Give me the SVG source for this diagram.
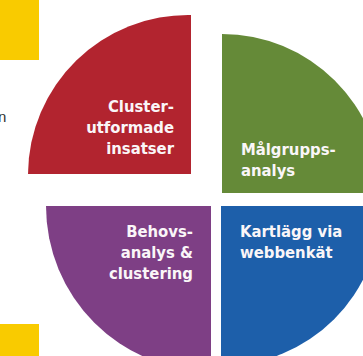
<svg xmlns="http://www.w3.org/2000/svg" width="363" height="356" viewBox="0 0 363 356">
<style>
.lbl{font-family:"DejaVu Sans Condensed","DejaVu Sans","Liberation Sans Narrow",sans-serif;font-stretch:condensed;font-weight:bold;font-size:16.5px;fill:#FAF6F8}
.end{text-anchor:end}
</style>
<rect width="363" height="356" fill="#ffffff"/>
<rect x="0" y="0" width="39" height="60" fill="#F9CB00"/>
<rect x="0" y="324" width="39" height="32" fill="#F9CB00"/>
<text x="-2" y="122" font-family="Liberation Sans, sans-serif" font-size="15" fill="#333333">n</text>
<g id="red">
<path d="M191,174 L191,15 A160,160 0 0 0 28,174 Z" fill="#B2242F"/>
<text class="lbl end"><tspan x="174" y="112">Cluster-</tspan><tspan x="174" y="133">utformade</tspan><tspan x="174" y="154">insatser</tspan></text>
</g>
<g id="green">
<path d="M222,193 L222,34 A160,160 0 0 1 382,193 Z" fill="#658A38"/>
<text class="lbl"><tspan x="241" y="155">Målgrupps-</tspan><tspan x="241" y="176">analys</tspan></text>
</g>
<g id="purple">
<path d="M211,206 L211,371 A165,165 0 0 1 46,206 Z" fill="#7E3F85"/>
<text class="lbl end"><tspan x="193" y="237">Behovs-</tspan><tspan x="193" y="258">analys &amp;</tspan><tspan x="193" y="279">clustering</tspan></text>
</g>
<g id="blue">
<path d="M221,206 L381,206 A160,160 0 0 1 221,366 Z" fill="#1D5FAA"/>
<text class="lbl"><tspan x="240" y="237">Kartlägg via</tspan><tspan x="240" y="258">webbenkät</tspan></text>
</g>
<g id="connectors"/>
</svg>
